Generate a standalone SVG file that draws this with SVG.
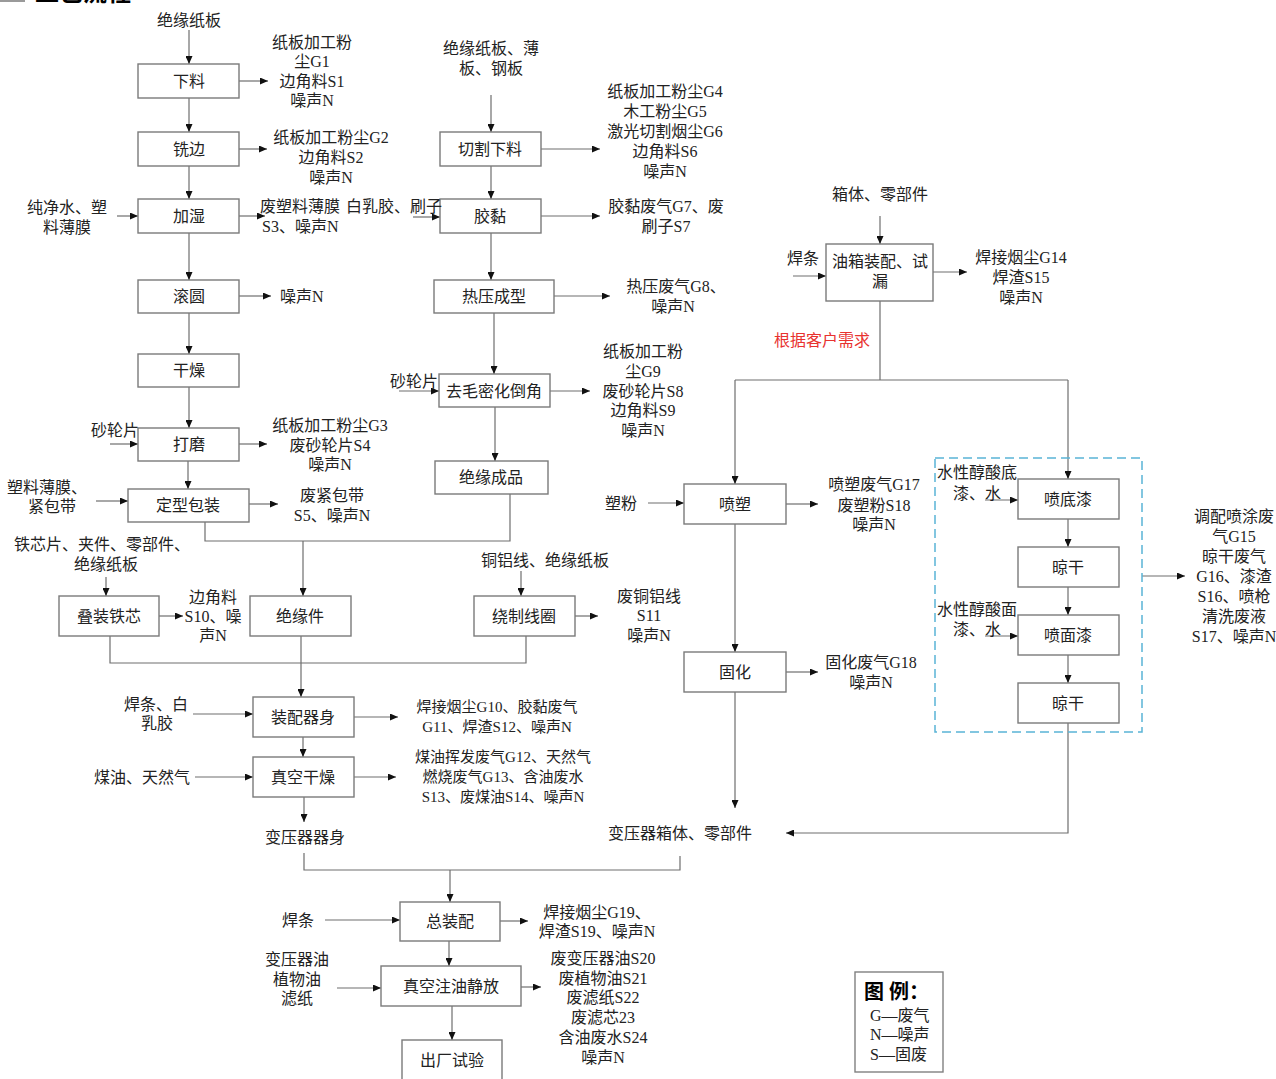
<svg xmlns="http://www.w3.org/2000/svg" width="1276" height="1079" viewBox="0 0 1276 1079">
<defs>
<marker id="ah" markerUnits="userSpaceOnUse" markerWidth="8" markerHeight="7" refX="8" refY="3.5" orient="auto">
<path d="M0,0 L8,3.5 L0,7 z" fill="#111"/>
</marker>
<style>
.box{fill:#fff;stroke:#7a7a7a;stroke-width:1.4}
.t{font-family:"Liberation Serif","Noto Sans CJK SC",serif;font-size:16px;fill:#222;text-anchor:middle}
.s{font-size:15px}
.l{text-anchor:start}
.red{fill:#e8322f}
.ln{fill:none;stroke:#6e6e6e;stroke-width:1.2}
.ar{marker-end:url(#ah)}
.dash{fill:none;stroke:#5ab4d6;stroke-width:1.5;stroke-dasharray:9 5}
.leg{fill:#fff;stroke:#808080;stroke-width:1.4}
</style>
</defs>
<rect width="1276" height="1079" fill="#fff"/>
<rect x="0" y="0" width="25" height="2" fill="#9a9a9a"/>
<text class="t l" x="35" y="1" font-size="24" font-weight="bold" style="font-size:24px;fill:#000">工艺流程</text>

<g id="connectors">
<path class="ln ar" d="M189,30V64"/>
<path class="ln ar" d="M189,98V132"/>
<path class="ln ar" d="M189,166V199"/>
<path class="ln ar" d="M189,233V280"/>
<path class="ln ar" d="M189,313V354"/>
<path class="ln ar" d="M189,387V428"/>
<path class="ln ar" d="M188,461V489"/>
<path class="ln ar" d="M239,81H268"/>
<path class="ln ar" d="M239,149H267"/>
<path class="ln ar" d="M239,216H265"/>
<path class="ln ar" d="M239,296H271"/>
<path class="ln ar" d="M239,444H267"/>
<path class="ln ar" d="M249,504H278"/>
<path class="ln ar" d="M117,216H138"/>
<path class="ln ar" d="M110,444H138"/>
<path class="ln ar" d="M96,501H128"/>
<path class="ln" d="M205,522V541H510V494"/>
<path class="ln ar" d="M303,541V596"/>
<path class="ln ar" d="M106,577V596"/>
<path class="ln ar" d="M159,616H183"/>
<path class="ln" d="M110,636V663H526V636"/>
<path class="ln ar" d="M301,636V697"/>
<path class="ln ar" d="M491,95V132"/>
<path class="ln ar" d="M491,166V199"/>
<path class="ln ar" d="M491,233V280"/>
<path class="ln ar" d="M494,313V374"/>
<path class="ln ar" d="M495,407V461"/>
<path class="ln ar" d="M541,149H600"/>
<path class="ln ar" d="M541,216H600"/>
<path class="ln ar" d="M554,296H610"/>
<path class="ln ar" d="M550,391H590"/>
<path class="ln ar" d="M575,616H598"/>
<path class="ln ar" d="M413,217H440"/>
<path class="ln ar" d="M399,391H439"/>
<path class="ln ar" d="M521,571V596"/>
<path class="ln ar" d="M193,714H253"/>
<path class="ln ar" d="M354,717H398"/>
<path class="ln ar" d="M303,737V757"/>
<path class="ln ar" d="M195,777H253"/>
<path class="ln ar" d="M354,777H396"/>
<path class="ln ar" d="M304,797V822"/>
<path class="ln" d="M304,853V870H680V856"/>
<path class="ln ar" d="M450,870V902"/>
<path class="ln ar" d="M325,920H400"/>
<path class="ln ar" d="M500,921H528"/>
<path class="ln ar" d="M449,941V966"/>
<path class="ln ar" d="M337,988H381"/>
<path class="ln ar" d="M521,987H541"/>
<path class="ln ar" d="M452,1006V1040"/>
<path class="ln ar" d="M880,216V244"/>
<path class="ln ar" d="M793,276H826"/>
<path class="ln ar" d="M933,272H967"/>
<path class="ln" d="M880,301V380M735,380H1068"/>
<path class="ln ar" d="M735,380V484"/>
<path class="ln ar" d="M1068,380V479"/>
<path class="ln ar" d="M648,503H684"/>
<path class="ln ar" d="M786,504H818"/>
<path class="ln ar" d="M786,672H818"/>
<path class="ln ar" d="M735,524V652"/>
<path class="ln ar" d="M735,692V808"/>
<path class="ln ar" d="M1068,519V547"/>
<path class="ln ar" d="M1068,587V615"/>
<path class="ln ar" d="M1068,655V683"/>
<path class="ln ar" d="M985,500H1018"/>
<path class="ln ar" d="M985,636H1018"/>
<path class="ln ar" d="M1068,723V833H786"/>
<path class="ln ar" d="M1142,576H1185"/>
</g>

<rect id="paint-group" class="dash" x="935" y="458" width="207" height="274"/>

<g id="n-xialiao"><rect class="box" x="138" y="64" width="101" height="34"/><text class="t" x="189" y="87">下料</text></g>
<g id="n-xibian"><rect class="box" x="138" y="132" width="101" height="34"/><text class="t" x="189" y="155">铣边</text></g>
<g id="n-jiashi"><rect class="box" x="138" y="199" width="101" height="34"/><text class="t" x="189" y="222">加湿</text></g>
<g id="n-gunyuan"><rect class="box" x="138" y="280" width="101" height="33"/><text class="t" x="189" y="302">滚圆</text></g>
<g id="n-ganzao"><rect class="box" x="138" y="354" width="101" height="33"/><text class="t" x="189" y="376">干燥</text></g>
<g id="n-damo"><rect class="box" x="138" y="428" width="101" height="33"/><text class="t" x="189" y="450">打磨</text></g>
<g id="n-dingxing"><rect class="box" x="128" y="489" width="121" height="33"/><text class="t" x="188" y="511">定型包装</text></g>
<g id="n-diezhuang"><rect class="box" x="59" y="596" width="100" height="40"/><text class="t" x="109" y="622">叠装铁芯</text></g>
<g id="n-jueyuanjian"><rect class="box" x="250" y="596" width="101" height="40"/><text class="t" x="300" y="622">绝缘件</text></g>
<g id="n-qiege"><rect class="box" x="440" y="132" width="101" height="34"/><text class="t" x="490" y="155">切割下料</text></g>
<g id="n-jiaonian"><rect class="box" x="440" y="199" width="101" height="34"/><text class="t" x="490" y="222">胶黏</text></g>
<g id="n-reya"><rect class="box" x="434" y="280" width="120" height="33"/><text class="t" x="494" y="302">热压成型</text></g>
<g id="n-qumao"><rect class="box" x="439" y="374" width="111" height="33"/><text class="t" x="494" y="397">去毛密化倒角</text></g>
<g id="n-chengpin"><rect class="box" x="435" y="461" width="113" height="33"/><text class="t" x="491" y="483">绝缘成品</text></g>
<g id="n-raozhi"><rect class="box" x="474" y="596" width="101" height="40"/><text class="t" x="524" y="622">绕制线圈</text></g>
<g id="n-zhuangpei"><rect class="box" x="253" y="697" width="101" height="40"/><text class="t" x="303" y="723">装配器身</text></g>
<g id="n-zhenkong"><rect class="box" x="253" y="757" width="101" height="40"/><text class="t" x="303" y="783">真空干燥</text></g>
<g id="n-qishen"><text class="t" x="305" y="843">变压器器身</text></g>
<g id="n-xiangti"><text class="t" x="680" y="839">变压器箱体、零部件</text></g>
<g id="n-zongzhuang"><rect class="box" x="400" y="902" width="100" height="39"/><text class="t" x="450" y="927">总装配</text></g>
<g id="n-zhuyou"><rect class="box" x="381" y="966" width="140" height="40"/><text class="t" x="451" y="992">真空注油静放</text></g>
<g id="n-chuchang"><rect class="box" x="402" y="1040" width="100" height="45"/><text class="t" x="452" y="1066">出厂试验</text></g>
<g id="n-youxiang"><rect class="box" x="826" y="244" width="107" height="57"/><text class="t"><tspan x="880" y="267">油箱装配、试</tspan><tspan x="880" y="287">漏</tspan></text></g>
<g id="n-pensu"><rect class="box" x="684" y="484" width="102" height="40"/><text class="t" x="735" y="510">喷塑</text></g>
<g id="n-guhua"><rect class="box" x="684" y="652" width="102" height="40"/><text class="t" x="735" y="678">固化</text></g>
<g id="n-pendiqi"><rect class="box" x="1018" y="479" width="101" height="40"/><text class="t" x="1068" y="505">喷底漆</text></g>
<g id="n-lianggan1"><rect class="box" x="1018" y="547" width="101" height="40"/><text class="t" x="1068" y="573">晾干</text></g>
<g id="n-penmianqi"><rect class="box" x="1018" y="615" width="101" height="40"/><text class="t" x="1068" y="641">喷面漆</text></g>
<g id="n-lianggan2"><rect class="box" x="1018" y="683" width="101" height="40"/><text class="t" x="1068" y="709">晾干</text></g>

<g id="labels">
<text class="t" x="189" y="26">绝缘纸板</text>
<text class="t"><tspan x="312" y="48">纸板加工粉</tspan><tspan x="312" y="67">尘G1</tspan><tspan x="312" y="87">边角料S1</tspan><tspan x="312" y="106">噪声N</tspan></text>
<text class="t"><tspan x="331" y="143">纸板加工粉尘G2</tspan><tspan x="331" y="163">边角料S2</tspan><tspan x="331" y="183">噪声N</tspan></text>
<text class="t"><tspan x="67" y="213">纯净水、塑</tspan><tspan x="67" y="233">料薄膜</tspan></text>
<text class="t l"><tspan x="260" y="212">废塑料薄膜</tspan><tspan x="262" y="232">S3、噪声N</tspan></text>
<text class="t l" x="346" y="212">白乳胶、刷子</text>
<text class="t l" x="280" y="302">噪声N</text>
<text class="t" x="115" y="436">砂轮片</text>
<text class="t"><tspan x="330" y="431">纸板加工粉尘G3</tspan><tspan x="330" y="451">废砂轮片S4</tspan><tspan x="330" y="470">噪声N</tspan></text>
<text class="t"><tspan x="47" y="493">塑料薄膜、</tspan><tspan x="52" y="512">紧包带</tspan></text>
<text class="t"><tspan x="332" y="501">废紧包带</tspan><tspan x="332" y="521">S5、噪声N</tspan></text>
<text class="t"><tspan x="102" y="550">铁芯片、夹件、零部件、</tspan><tspan x="106" y="570">绝缘纸板</tspan></text>
<text class="t"><tspan x="213" y="603">边角料</tspan><tspan x="213" y="622">S10、噪</tspan><tspan x="213" y="641">声N</tspan></text>
<text class="t"><tspan x="491" y="54">绝缘纸板、薄</tspan><tspan x="491" y="74">板、钢板</tspan></text>
<text class="t"><tspan x="665" y="97">纸板加工粉尘G4</tspan><tspan x="665" y="117">木工粉尘G5</tspan><tspan x="665" y="137">激光切割烟尘G6</tspan><tspan x="665" y="157">边角料S6</tspan><tspan x="665" y="177">噪声N</tspan></text>
<text class="t"><tspan x="666" y="212">胶黏废气G7、废</tspan><tspan x="666" y="232">刷子S7</tspan></text>
<text class="t"><tspan x="676" y="292">热压废气G8、</tspan><tspan x="673" y="312">噪声N</tspan></text>
<text class="t" x="414" y="387">砂轮片</text>
<text class="t"><tspan x="643" y="357">纸板加工粉</tspan><tspan x="643" y="377">尘G9</tspan><tspan x="643" y="397">废砂轮片S8</tspan><tspan x="643" y="416">边角料S9</tspan><tspan x="643" y="436">噪声N</tspan></text>
<text class="t" x="545" y="566">铜铝线、绝缘纸板</text>
<text class="t"><tspan x="649" y="602">废铜铝线</tspan><tspan x="649" y="621">S11</tspan><tspan x="649" y="641">噪声N</tspan></text>
<text class="t"><tspan x="156" y="710">焊条、白</tspan><tspan x="157" y="729">乳胶</tspan></text>
<text class="t s"><tspan x="497" y="711.5">焊接烟尘G10、胶黏废气</tspan><tspan x="497" y="731.5">G11、焊渣S12、噪声N</tspan></text>
<text class="t" x="142" y="783">煤油、天然气</text>
<text class="t s"><tspan x="503" y="761.5">煤油挥发废气G12、天然气</tspan><tspan x="503" y="781.5">燃烧废气G13、含油废水</tspan><tspan x="503" y="801.5">S13、废煤油S14、噪声N</tspan></text>
<text class="t" x="298" y="926">焊条</text>
<text class="t"><tspan x="597" y="918">焊接烟尘G19、</tspan><tspan x="597" y="937">焊渣S19、噪声N</tspan></text>
<text class="t"><tspan x="297" y="965">变压器油</tspan><tspan x="297" y="985">植物油</tspan><tspan x="297" y="1004">滤纸</tspan></text>
<text class="t"><tspan x="603" y="964">废变压器油S20</tspan><tspan x="603" y="984">废植物油S21</tspan><tspan x="603" y="1003">废滤纸S22</tspan><tspan x="603" y="1023">废滤芯23</tspan><tspan x="603" y="1043">含油废水S24</tspan><tspan x="603" y="1063">噪声N</tspan></text>
<text class="t" x="880" y="200">箱体、零部件</text>
<text class="t" x="803" y="264">焊条</text>
<text class="t"><tspan x="1021" y="263">焊接烟尘G14</tspan><tspan x="1021" y="283">焊渣S15</tspan><tspan x="1021" y="303">噪声N</tspan></text>
<text class="t red" x="822" y="346">根据客户需求</text>
<text class="t" x="621" y="509">塑粉</text>
<text class="t"><tspan x="874" y="490">喷塑废气G17</tspan><tspan x="874" y="511">废塑粉S18</tspan><tspan x="874" y="530">噪声N</tspan></text>
<text class="t"><tspan x="871" y="668">固化废气G18</tspan><tspan x="871" y="688">噪声N</tspan></text>
<text class="t"><tspan class="l" x="937" y="478">水性醇酸底</tspan><tspan x="977" y="499">漆、水</tspan></text>
<text class="t"><tspan class="l" x="937" y="615">水性醇酸面</tspan><tspan x="977" y="635">漆、水</tspan></text>
<text class="t"><tspan x="1234" y="522">调配喷涂废</tspan><tspan x="1234" y="542">气G15</tspan><tspan x="1234" y="562">晾干废气</tspan><tspan x="1234" y="582">G16、漆渣</tspan><tspan x="1234" y="602">S16、喷枪</tspan><tspan x="1234" y="622">清洗废液</tspan><tspan x="1234" y="642">S17、噪声N</tspan></text>
</g>

<g id="legend">
<rect class="leg" x="855" y="972" width="88" height="100"/>
<text class="t l" x="864" y="999" style="font-size:20px;font-weight:bold;fill:#000">图 例：</text>
<text class="t l"><tspan x="870" y="1021">G—废气</tspan><tspan x="870" y="1040">N—噪声</tspan><tspan x="870" y="1060">S—固废</tspan></text>
</g>
</svg>
